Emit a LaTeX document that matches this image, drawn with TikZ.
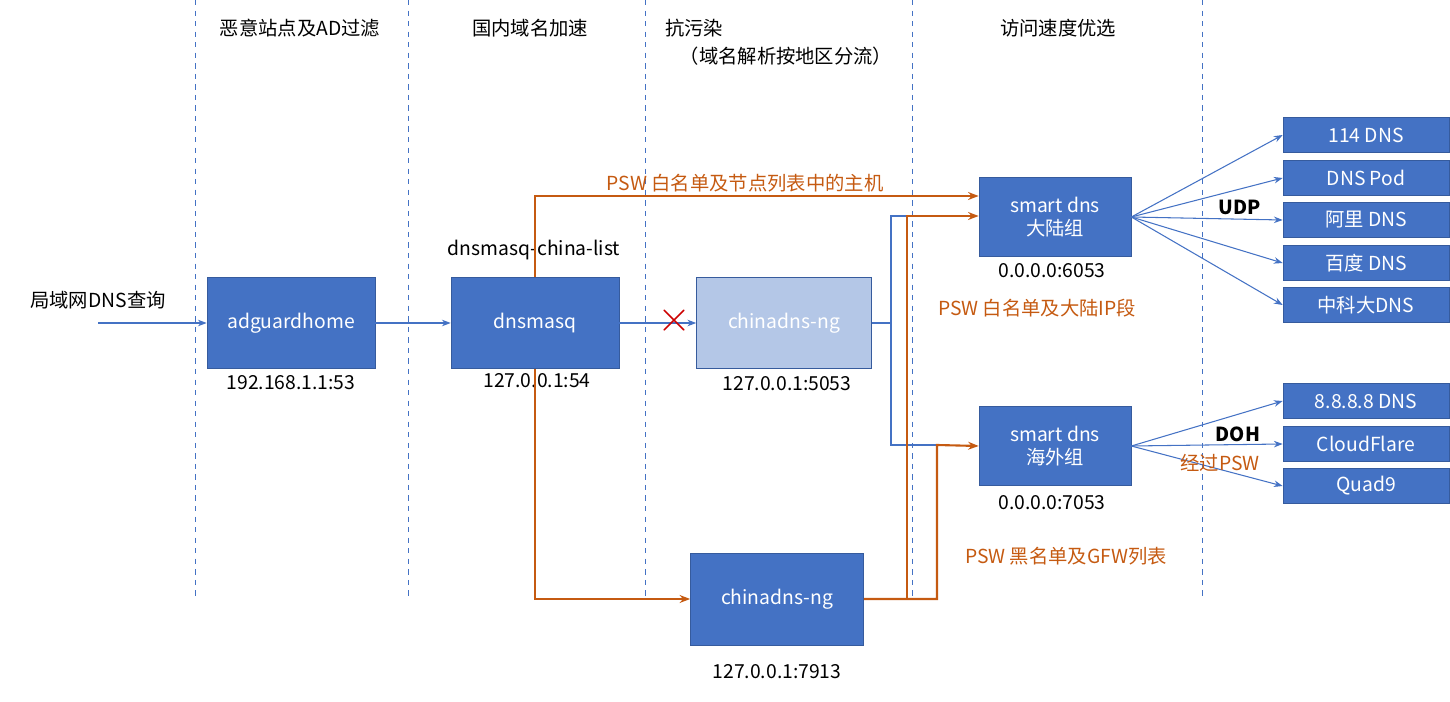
\documentclass[tikz,border=0pt]{standalone}
\usepackage{fontspec}
\setmainfont{Noto Sans CJK SC}
\usetikzlibrary{arrows.meta}
\definecolor{boxblue}{RGB}{68,114,196}
\definecolor{lightblue}{RGB}{180,199,231}
\definecolor{pswor}{RGB}{197,90,17}
\begin{document}
\begin{tikzpicture}[x=0.02cm, y=-0.02cm, font=\fontsize{11}{13}\selectfont,
        box/.style={rectangle, fill=boxblue, draw=boxblue!80!black, text=white, inner sep=0pt},
        srv/.style={box, minimum width=3.32cm, minimum height=0.7cm},
        blk/.style={->, >={Stealth[length=5pt]}, boxblue, line width=0.6pt},
        org/.style={->, >={Stealth[length=6pt]}, pswor, line width=1.2pt},
        sep/.style={dashed, boxblue, line width=0.4pt},
        ]
      \useasboundingbox (0,0) rectangle (1450,702);

      \foreach \x in {195, 408, 645, 912, 1202}
        \draw[sep] (\x,0) -- (\x,600);

      \node (h1) at (300,28) {恶意站点及AD过滤};
      \node (h2) at (530,28) {国内域名加速};
      \node (h3) at (694,28) {抗污染};
      \node (h4) at (786,56) {（域名解析按地区分流）};
      \node (h5) at (1058,28) {访问速度优选};

      \node (lan) at (98,300) {局域网DNS查询};
      \coordinate (in) at (98,323);

      \node[box, minimum width=3.36cm, minimum height=1.82cm] (ag) at (291,323) {adguardhome};
      \node (agip) at (291,383) {192.168.1.1:53};
      \node[box, minimum width=3.36cm, minimum height=1.82cm] (dm) at (535,323) {dnsmasq};
      \node (dmip) at (537,381) {127.0.0.1:54};
      \node (dml) at (534,250) {dnsmasq-china-list};
      \node[box, fill=lightblue, minimum width=3.5cm, minimum height=1.82cm] (cn1) at (784,323) {chinadns-ng};
      \node (cn1ip) at (787,384) {127.0.0.1:5053};
      \node[box, minimum width=3.46cm, minimum height=1.84cm] (cn2) at (777,599) {chinadns-ng};
      \node (cn2ip) at (777,672) {127.0.0.1:7913};

      \node[box, minimum width=3.04cm, minimum height=1.58cm, align=center] (sd1) at (1055,217) {smart dns\\大陆组};
      \node (sd1ip) at (1052,271) {0.0.0.0:6053};
      \node[box, minimum width=3.04cm, minimum height=1.58cm, align=center] (sd2) at (1055,446) {smart dns\\海外组};
      \node (sd2ip) at (1052,503) {0.0.0.0:7053};

      \node[srv] (u1) at (1366,135) {114 DNS};
      \node[srv] (u2) at (1366,178) {DNS Pod};
      \node[srv] (u3) at (1366,220) {阿里 DNS};
      \node[srv] (u4) at (1366,263) {百度 DNS};
      \node[srv] (u5) at (1366,305) {中科大DNS};
      \node[srv] (d1) at (1366,401) {8.8.8.8 DNS};
      \node[srv] (d2) at (1366,444) {CloudFlare};
      \node[srv] (d3) at (1366,486) {Quad9};

      \draw[blk] (in) -- (ag);
      \draw[blk] (ag) -- (dm);
      \draw[blk] (dm) -- (cn1);
      \node[text=red!80!black, font=\fontsize{30}{30}\selectfont] (no) at (674,321) {$\times$};

      \draw[boxblue, line width=0.6pt] (cn1.east) -- (891,323) |- (907,216);
      \draw[boxblue, line width=0.6pt] (891,323) |- (937,445);

      \draw[org] (dm.north) |- (sd1.west |- 0,196);
      \draw[org] (dm.south) |- (cn2.west);
      \draw[org] (cn2.east) -| (907,216) -- (sd1.west |- 0,216);
      \draw[org] (cn2.east) -| (937,445) -- (sd2.west);

      \node[text=pswor] (l1) at (745,183) {PSW 白名单及节点列表中的主机};
      \node[text=pswor] (l2) at (1037,308) {PSW 白名单及大陆IP段};
      \node[text=pswor] (l3) at (1066,556) {PSW 黑名单及GFW列表};

      \foreach \t in {u1, u2, u3, u4, u5}
        \draw[blk] (sd1.east) -- (\t.west);
      \foreach \t in {d1, d2, d3}
        \draw[blk] (sd2.east) -- (\t.west);

      \node[font=\fontsize{11}{13}\selectfont\bfseries] (udp) at (1240,207) {UDP};
      \node[font=\fontsize{11}{13}\selectfont\bfseries] (doh) at (1238,434) {DOH};
      \node[text=pswor] (via) at (1220,463) {经过PSW};
\end{tikzpicture}
\end{document}
